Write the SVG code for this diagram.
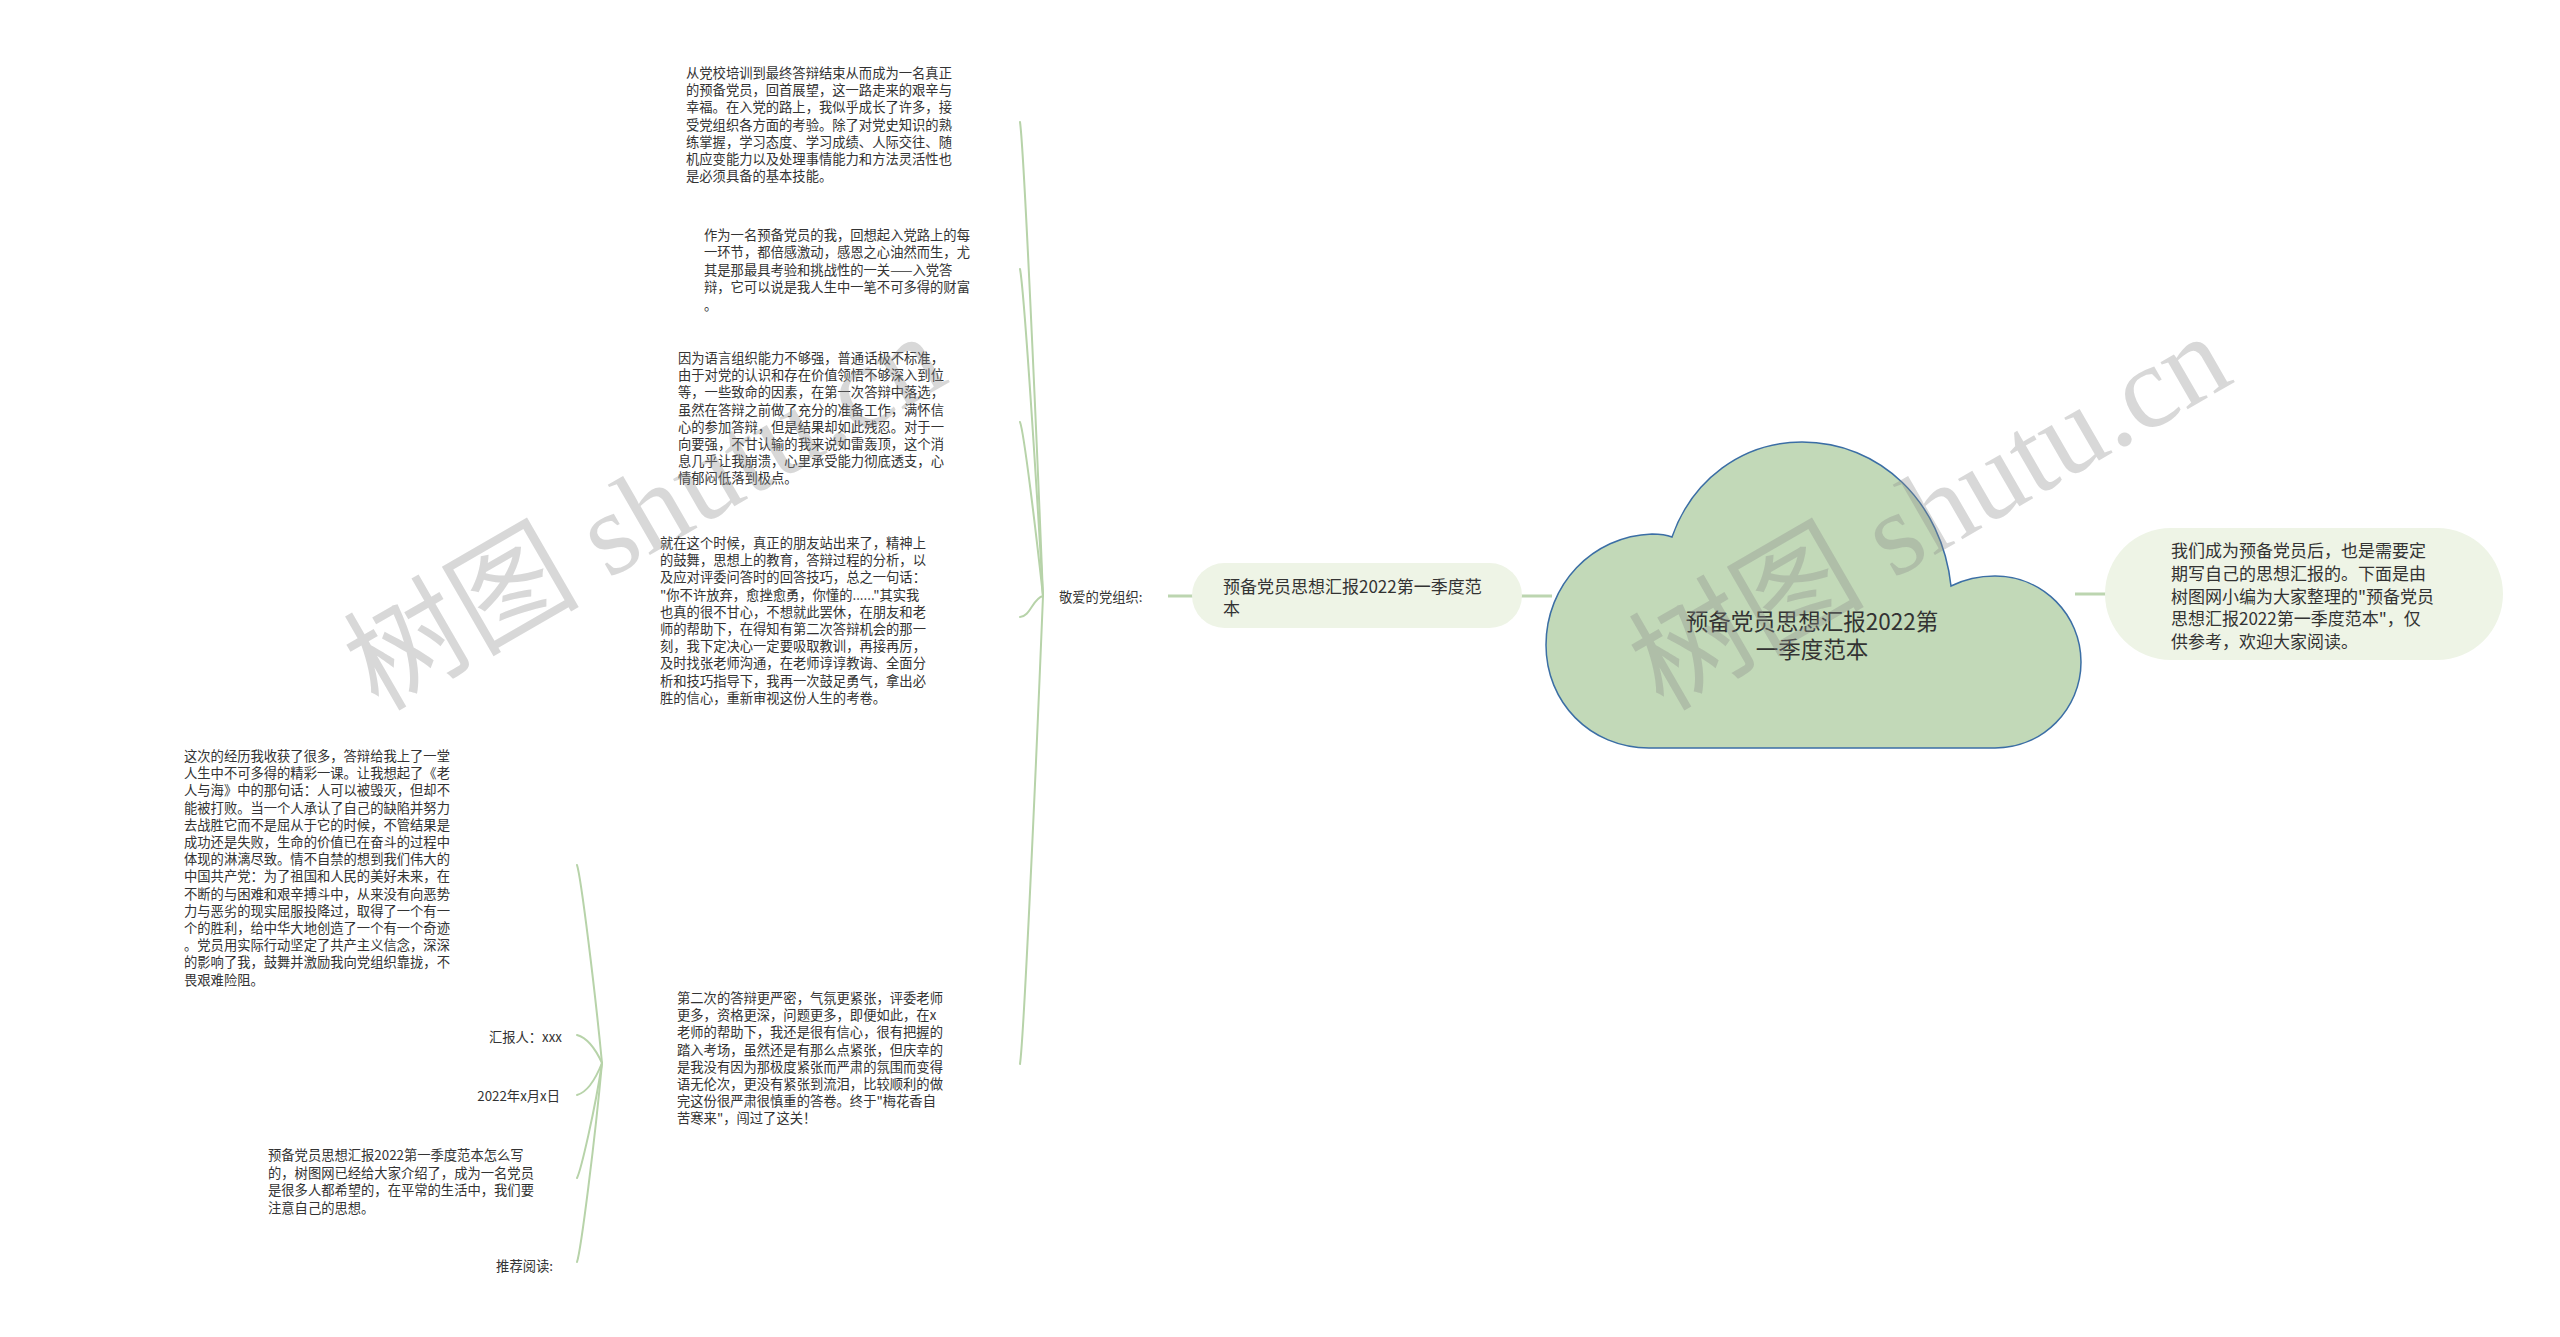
<svg xmlns="http://www.w3.org/2000/svg" width="2560" height="1337" viewBox="0 0 2560 1337">
<style>
  .t { font-family: "Noto Sans CJK SC", "Liberation Sans", sans-serif; fill: #333333; dominant-baseline: central; }
  .s { font-size: 13.3px; }
  .m { font-size: 17px; }
  .c { font-size: 22.5px; }
  .fan { fill: none; stroke: #b7d3a9; stroke-width: 2; stroke-linecap: round; }
  .main { fill: none; stroke: #bcd5b0; stroke-width: 3; }
  .pill { fill: #eef4e6; }
  .wm { font-family: "Liberation Serif", "Noto Sans CJK SC", serif; font-size: 118px; fill: #8a8a8a; fill-opacity: 0.33; }
</style>
<rect width="2560" height="1337" fill="#ffffff"/>

<g id="connectors">
  <line class="main" x1="1168" y1="596" x2="1552" y2="596"/>
  <line class="main" x1="2075" y1="594" x2="2110" y2="594"/>
  <path class="fan" d="M1020,122 C1024,150 1036,420 1043,596"/>
  <path class="fan" d="M1020,269 C1024,289 1036,475 1043,596"/>
  <path class="fan" d="M1020,422 C1024,432 1036,532 1043,596"/>
  <path class="fan" d="M1020,617 C1030,617 1033,598 1043,596"/>
  <path class="fan" d="M1020,1064 C1024,1036 1036,769 1043,596"/>
  <path class="fan" d="M577,865 C581,877 595,990 602,1063"/>
  <path class="fan" d="M577,1035 C588,1038 596,1050 602,1063"/>
  <path class="fan" d="M577,1095 C588,1092 596,1078 602,1063"/>
  <path class="fan" d="M577,1178 C581,1170 595,1110 602,1063"/>
  <path class="fan" d="M577,1262 C581,1250 595,1140 602,1063"/>
</g>

<g id="root">
  <path d="M1649,748 C1590,748 1546,702 1546,645 C1546,585 1592,536 1652,534 C1660,534 1667,535 1672,537 C1692,480 1742,442 1802,442 C1880,442 1942,502 1951,586 C1965,579 1980,576 1995,576 C2043,576 2081,615 2081,662 C2081,709 2043,748 1995,748 Z" fill="#c2d9b8" stroke="#3b6ea5" stroke-width="1.5"/>
  <text class="t c" text-anchor="middle"><tspan x="1812" y="620">预备党员思想汇报2022第</tspan><tspan x="1812" y="648">一季度范本</tspan></text>
</g>

<g id="subtitle">
  <rect class="pill" x="1192" y="563" width="330" height="65" rx="32.5"/>
  <text class="t m"><tspan x="1223" y="585">预备党员思想汇报2022第一季度范</tspan><tspan x="1223" y="607">本</tspan></text>
</g>

<g id="intro">
  <rect class="pill" x="2105" y="528" width="398" height="132" rx="66"/>
  <text class="t m"><tspan x="2171" y="549">我们成为预备党员后，也是需要定</tspan><tspan x="2171" y="571.8">期写自己的思想汇报的。下面是由</tspan><tspan x="2171" y="594.6">树图网小编为大家整理的"预备党员</tspan><tspan x="2171" y="617.4">思想汇报2022第一季度范本"，仅</tspan><tspan x="2171" y="640.2">供参考，欢迎大家阅读。</tspan></text>
</g>

<g id="greeting">
  <text class="t s" x="1059" y="596">敬爱的党组织:</text>
</g>

<g id="p1">
  <text class="t s"><tspan x="686" y="72">从党校培训到最终答辩结束从而成为一名真正</tspan><tspan x="686" y="89.2">的预备党员，回首展望，这一路走来的艰辛与</tspan><tspan x="686" y="106.4">幸福。在入党的路上，我似乎成长了许多，接</tspan><tspan x="686" y="123.6">受党组织各方面的考验。除了对党史知识的熟</tspan><tspan x="686" y="140.8">练掌握，学习态度、学习成绩、人际交往、随</tspan><tspan x="686" y="158">机应变能力以及处理事情能力和方法灵活性也</tspan><tspan x="686" y="175.2">是必须具备的基本技能。</tspan></text>
</g>

<g id="p2">
  <text class="t s"><tspan x="704" y="234">作为一名预备党员的我，回想起入党路上的每</tspan><tspan x="704" y="251.4">一环节，都倍感激动，感恩之心油然而生，尤</tspan><tspan x="704" y="268.8">其是那最具考验和挑战性的一关——入党答</tspan><tspan x="704" y="286.2">辩，它可以说是我人生中一笔不可多得的财富</tspan><tspan x="704" y="303.6">。</tspan></text>
</g>

<g id="p3">
  <text class="t s"><tspan x="678" y="357">因为语言组织能力不够强，普通话极不标准，</tspan><tspan x="678" y="374.2">由于对党的认识和存在价值领悟不够深入到位</tspan><tspan x="678" y="391.4">等，一些致命的因素，在第一次答辩中落选，</tspan><tspan x="678" y="408.6">虽然在答辩之前做了充分的准备工作，满怀信</tspan><tspan x="678" y="425.8">心的参加答辩，但是结果却如此残忍。对于一</tspan><tspan x="678" y="443">向要强，不甘认输的我来说如雷轰顶，这个消</tspan><tspan x="678" y="460.2">息几乎让我崩溃，心里承受能力彻底透支，心</tspan><tspan x="678" y="477.4">情郁闷低落到极点。</tspan></text>
</g>

<g id="p4">
  <text class="t s"><tspan x="660" y="542">就在这个时候，真正的朋友站出来了，精神上</tspan><tspan x="660" y="559.2">的鼓舞，思想上的教育，答辩过程的分析，以</tspan><tspan x="660" y="576.4">及应对评委问答时的回答技巧，总之一句话：</tspan><tspan x="660" y="593.6">"你不许放弃，愈挫愈勇，你懂的......"其实我</tspan><tspan x="660" y="610.8">也真的很不甘心，不想就此罢休，在朋友和老</tspan><tspan x="660" y="628">师的帮助下，在得知有第二次答辩机会的那一</tspan><tspan x="660" y="645.2">刻，我下定决心一定要吸取教训，再接再厉，</tspan><tspan x="660" y="662.4">及时找张老师沟通，在老师谆谆教诲、全面分</tspan><tspan x="660" y="679.6">析和技巧指导下，我再一次鼓足勇气，拿出必</tspan><tspan x="660" y="696.8">胜的信心，重新审视这份人生的考卷。</tspan></text>
</g>

<g id="p5">
  <text class="t s"><tspan x="677" y="997">第二次的答辩更严密，气氛更紧张，评委老师</tspan><tspan x="677" y="1014.2">更多，资格更深，问题更多，即便如此，在x</tspan><tspan x="677" y="1031.4">老师的帮助下，我还是很有信心，很有把握的</tspan><tspan x="677" y="1048.6">踏入考场，虽然还是有那么点紧张，但庆幸的</tspan><tspan x="677" y="1065.8">是我没有因为那极度紧张而严肃的氛围而变得</tspan><tspan x="677" y="1083">语无伦次，更没有紧张到流泪，比较顺利的做</tspan><tspan x="677" y="1100.2">完这份很严肃很慎重的答卷。终于"梅花香自</tspan><tspan x="677" y="1117.4">苦寒来"，闯过了这关！</tspan></text>
</g>

<g id="p6">
  <text class="t s"><tspan x="184" y="755">这次的经历我收获了很多，答辩给我上了一堂</tspan><tspan x="184" y="772.2">人生中不可多得的精彩一课。让我想起了《老</tspan><tspan x="184" y="789.4">人与海》中的那句话：人可以被毁灭，但却不</tspan><tspan x="184" y="806.6">能被打败。当一个人承认了自己的缺陷并努力</tspan><tspan x="184" y="823.8">去战胜它而不是屈从于它的时候，不管结果是</tspan><tspan x="184" y="841">成功还是失败，生命的价值已在奋斗的过程中</tspan><tspan x="184" y="858.2">体现的淋漓尽致。情不自禁的想到我们伟大的</tspan><tspan x="184" y="875.4">中国共产党：为了祖国和人民的美好未来，在</tspan><tspan x="184" y="892.6">不断的与困难和艰辛搏斗中，从来没有向恶势</tspan><tspan x="184" y="909.8">力与恶劣的现实屈服投降过，取得了一个有一</tspan><tspan x="184" y="927">个的胜利，给中华大地创造了一个有一个奇迹</tspan><tspan x="184" y="944.2">。党员用实际行动坚定了共产主义信念，深深</tspan><tspan x="184" y="961.4">的影响了我，鼓舞并激励我向党组织靠拢，不</tspan><tspan x="184" y="978.6">畏艰难险阻。</tspan></text>
</g>

<g id="reporter">
  <text class="t s" x="562" y="1036" text-anchor="end">汇报人：xxx</text>
</g>
<g id="date">
  <text class="t s" x="560" y="1095" text-anchor="end">2022年x月x日</text>
</g>
<g id="p7">
  <text class="t s"><tspan x="268" y="1154">预备党员思想汇报2022第一季度范本怎么写</tspan><tspan x="268" y="1171.6">的，树图网已经给大家介绍了，成为一名党员</tspan><tspan x="268" y="1189.2">是很多人都希望的，在平常的生活中，我们要</tspan><tspan x="268" y="1206.8">注意自己的思想。</tspan></text>
</g>
<g id="recommend">
  <text class="t s" x="553" y="1265" text-anchor="end">推荐阅读:</text>
</g>

<g id="watermarks">
  <text class="wm" x="378" y="712" transform="rotate(-30 378 712)">树图 shutu.cn</text>
  <text class="wm" x="1663" y="712" transform="rotate(-30 1663 712)">树图 shutu.cn</text>
</g>
</svg>
